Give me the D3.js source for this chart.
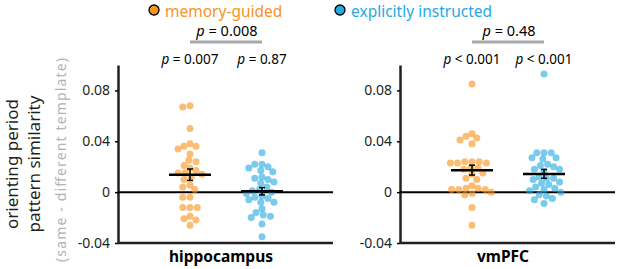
<!DOCTYPE html>
<html>
<head>
<meta charset="utf-8">
<script src="https://cdn.jsdelivr.net/npm/d3@7"></script>
<style>
  body { margin: 0; background: #fff; }
  svg { display: block; font-family: "Noto Sans", "Open Sans", sans-serif; }
</style>
</head>
<body>
<svg id="chart" width="617" height="269"></svg>
<script>
// ---- data ----
const regions = ["hippocampus", "vmPFC"];
const groups = ["memory-guided", "explicitly instructed"];
const tickValues = [-0.04, 0, 0.04, 0.08];
const tickLabels = ["-0.04", "0", "0.04", "0.08"];

const hippMemory = [0.068, 0.067, 0.050, 0.038, 0.036, 0.036, 0.034, 0.030, 0.025, 0.024,
  0.021, 0.019, 0.017, 0.015, 0.015, 0.014, 0.012, 0.010, 0.0055, 0.004, 0.002,
  -0.004, -0.004, -0.012, -0.012, -0.012, -0.019, -0.021, -0.022, -0.026];
const hippExplicit = [0.031, 0.022, 0.022, 0.020, 0.019, 0.017, 0.016, 0.012, 0.011, 0.010,
  0.008, 0.007, 0.004, 0.002, 0.001, 0.000, -0.001, -0.003, -0.004, -0.005, -0.006,
  -0.008, -0.008, -0.013, -0.016, -0.018, -0.019, -0.020, -0.025, -0.035];
const vmpfcMemory = [0.085, 0.046, 0.044, 0.0425, 0.041, 0.038, 0.024, 0.024, 0.024, 0.023,
  0.023, 0.023, 0.019, 0.019, 0.018, 0.015, 0.014, 0.011, 0.010, 0.005, 0.003, 0.003,
  0.002, 0.002, 0.002, 0.000, -0.001, -0.002, -0.012, -0.026];
const vmpfcExplicit = [0.093, 0.031, 0.031, 0.031, 0.027, 0.027, 0.026, 0.022, 0.021, 0.020,
  0.018, 0.018, 0.016, 0.012, 0.011, 0.011, 0.010, 0.008, 0.007, 0.006, 0.004, 0.003,
  0.002, 0.001, 0.000, -0.002, -0.003, -0.005, -0.006, -0.009];

// p-values: within-group (vs 0) and between groups
const pWithin = [["0.007", "0.87"], ["< 0.001", "< 0.001"]];
const pBetween = ["0.008", "0.48"];

const values = {
  "hippocampus": [hippMemory, hippExplicit],
  "vmPFC": [vmpfcMemory, vmpfcExplicit]
};

const dotColors = ["#f7941d", "#27aae1"];
const textColors = ["#f7941d", "#27aae1"];

// ---- layout ----
const svg = d3.select("#chart");
const plotTop = 65, plotBottom = 243;

const x0 = d3.scaleBand()
  .domain(regions)
  .range([118, 615])
  .paddingInner(0.2376);

const x1 = d3.scalePoint()
  .domain(groups)
  .range([72, 144]);

const y = d3.scaleLinear()
  .domain([-0.04, 0.1])
  .range([plotBottom, plotTop]);

const r = 3.5;

// simple beeswarm: place each dot as close to centre as possible
function swarm(vals) {
  const sorted = vals.map(v => ({ v, py: y(v) })).sort((a, b) => a.py - b.py);
  const placed = [];
  const minD = 2 * r - 0.6;
  sorted.forEach(d => {
    let best = 0;
    for (let k = 0; k < 60; k++) {
      const off = (k % 2 === 0 ? 1 : -1) * Math.ceil(k / 2) * 1.2;
      const ok = placed.every(p => Math.hypot(p.dx - off, p.py - d.py) >= minD);
      if (ok) { best = off; break; }
    }
    d.dx = best;
    placed.push(d);
  });
  return sorted;
}

regions.forEach((reg, ri) => {
  const g = svg.append("g").attr("transform", `translate(${x0(reg)},0)`);
  const w = x0.bandwidth();

  // y axis
  const axis = g.append("g")
    .call(d3.axisLeft(y).tickValues(tickValues).tickFormat((d, i) => tickLabels[i])
      .tickSize(3).tickSizeOuter(0).tickPadding(5));
  axis.select(".domain").attr("stroke-width", 2.5).attr("stroke", "#231f20");
  axis.selectAll(".tick line").attr("stroke-width", 1.5);
  axis.selectAll(".tick text")
    .style("font-size", "14px")
    .style("font-family", "'Noto Sans', sans-serif")
    .attr("fill", "#231f20");

  // bottom axis and zero line
  g.append("line")
    .attr("x1", 0).attr("x2", w)
    .attr("y1", plotBottom).attr("y2", plotBottom)
    .attr("stroke", "#231f20").attr("stroke-width", 2.5);
  g.append("line")
    .attr("x1", 0).attr("x2", w)
    .attr("y1", y(0)).attr("y2", y(0))
    .attr("stroke", "#000").attr("stroke-width", 2);

  groups.forEach((grp, gi) => {
    const vals = values[reg][gi];
    const cx = x1(grp);
    const pts = swarm(vals);

    g.append("g").selectAll("circle")
      .data(pts)
      .enter().append("circle")
      .attr("cx", d => cx + d.dx)
      .attr("cy", d => d.py)
      .attr("r", r)
      .attr("fill", dotColors[gi])
      .attr("fill-opacity", 0.62);

    const m = d3.mean(vals);
    const sem = d3.deviation(vals) / Math.sqrt(vals.length);

    g.append("line")
      .attr("x1", cx - 21).attr("x2", cx + 21)
      .attr("y1", y(m)).attr("y2", y(m))
      .attr("stroke", "#000").attr("stroke-width", 2.5);
    g.append("line")
      .attr("x1", cx).attr("x2", cx)
      .attr("y1", y(m - sem)).attr("y2", y(m + sem))
      .attr("stroke", "#000").attr("stroke-width", 1.5);
    [m - sem, m + sem].forEach(v => {
      g.append("line")
        .attr("x1", cx - 3).attr("x2", cx + 3)
        .attr("y1", y(v)).attr("y2", y(v))
        .attr("stroke", "#000").attr("stroke-width", 1.5);
    });

    // within-group p value
    const t = g.append("text")
      .attr("x", cx)
      .attr("y", 64)
      .attr("text-anchor", "middle")
      .style("font-size", "13.5px")
      .attr("fill", "#000");
    t.append("tspan").style("font-style", "italic").text("p");
    t.append("tspan").text(" " + (pWithin[ri][gi].startsWith("<") ? "" : "= ") + pWithin[ri][gi]);
  });

  // between-group comparison
  const c = (x1(groups[0]) + x1(groups[1])) / 2;
  g.append("line")
    .attr("x1", x1(groups[0])).attr("x2", x1(groups[1]))
    .attr("y1", 42).attr("y2", 42)
    .attr("stroke", "#a7a9ac").attr("stroke-width", 3);
  const tb = g.append("text")
    .attr("x", c + 1)
    .attr("y", 36)
    .attr("text-anchor", "middle")
    .style("font-size", "14.5px")
    .attr("fill", "#000");
  tb.append("tspan").style("font-style", "italic").text("p");
  tb.append("tspan").text(" = " + pBetween[ri]);

  // region label
  g.append("text")
    .attr("x", c - 5)
    .attr("y", 262)
    .attr("text-anchor", "middle")
    .style("font-size", "15.5px")
    .style("font-weight", "bold")
    .attr("fill", "#000")
    .text(reg);
});

// legend
const legendX = [154, 340];
groups.forEach((grp, gi) => {
  svg.append("circle")
    .attr("cx", legendX[gi]).attr("cy", 10)
    .attr("r", 5)
    .attr("fill", dotColors[gi])
    .attr("stroke", "#000").attr("stroke-width", 1.3);
  svg.append("text")
    .attr("x", legendX[gi] + 11)
    .attr("y", 16.5)
    .style("font-size", "15.5px")
    .attr("fill", textColors[gi])
    .text(grp);
});

// y-axis title
const yl = svg.append("g").attr("transform", "translate(0,164) rotate(-90)");
yl.append("text").attr("x", 0).attr("y", 18)
  .attr("text-anchor", "middle").style("font-size", "17px").attr("fill", "#231f20")
  .text("orienting period");
yl.append("text").attr("x", 0).attr("y", 40)
  .attr("text-anchor", "middle").style("font-size", "17px").attr("fill", "#231f20")
  .text("pattern similarity");
yl.append("text").attr("x", 4).attr("y", 66)
  .attr("text-anchor", "middle").style("font-size", "14px")
  .attr("textLength", 204).attr("lengthAdjust", "spacing")
  .attr("fill", "#b3b3b3")
  .text("(same - different template)");
</script>
</body>
</html>
